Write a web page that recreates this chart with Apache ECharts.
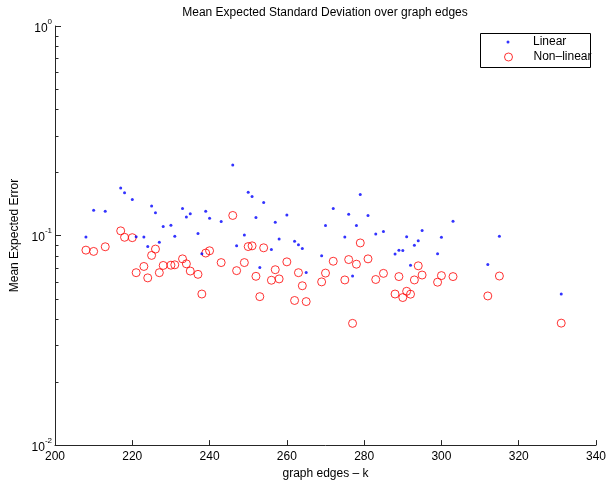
<!DOCTYPE html>
<html><head><meta charset="utf-8">
<script src="https://cdn.jsdelivr.net/npm/echarts@6/dist/echarts.min.js"></script>
<style>html,body{margin:0;padding:0;background:#fff}#c{width:613px;height:485px}</style>
</head><body><div id="c"></div>
<script>
// graph edges (k) shared by both series
const edges = [208,210,213,217,218,220,221,223,224,225,226,227,228,230,231,233,234,235,237,238,
  239,240,243,246,247,249,250,251,252,253,254,256,257,258,260,262,263,264,265,269,
  270,272,275,276,277,278,279,281,283,285,288,289,290,291,292,293,294,295,299,300,
  303,312,315,331];
const linearVals = [0.0984,0.132,0.1307,0.1687,0.1599,0.1487,0.0987,0.0984,0.0886,0.1385,
  0.1285,0.0929,0.1104,0.112,0.0991,0.1345,0.1225,0.127,0.1024,0.0819,
  0.1307,0.1208,0.1166,0.217,0.0893,0.1005,0.161,0.1536,0.1221,0.0704,
  0.1436,0.0858,0.1157,0.0963,0.1252,0.0939,0.0903,0.0868,0.0667,0.0802,
  0.1116,0.1345,0.0984,0.1265,0.0641,0.1116,0.157,0.1247,0.1016,0.1046,
  0.0816,0.0852,0.0849,0.0987,0.0722,0.09,0.0945,0.1058,0.0819,0.0981,
  0.1169,0.0728,0.0991,0.0526];
const nonlinearVals = [0.0852,0.084,0.0884,0.1053,0.0981,0.0977,0.0665,0.0712,0.0628,0.0804,
  0.0862,0.0665,0.072,0.0722,0.0725,0.0774,0.0733,0.0677,0.0653,0.0526,
  0.0825,0.0846,0.0743,0.1247,0.068,0.0743,0.0886,0.0893,0.0639,0.0511,
  0.0874,0.0612,0.0687,0.0621,0.0749,0.049,0.0665,0.0576,0.0484,0.0601,
  0.0662,0.0754,0.0614,0.0768,0.0381,0.073,0.0922,0.0774,0.0617,0.066,
  0.0526,0.0637,0.0506,0.0542,0.0525,0.0614,0.0717,0.0648,0.0599,0.0644,
  0.0637,0.0515,0.0641,0.0382];
const xTicks = [200,220,240,260,280,300,320,340];
const yMajorTicks = [0.01, 0.1, 1];
const yMinorMantissas = [2,3,4,5,6,7,8,9];

const FONT = '"Liberation Sans", Arial, Helvetica, sans-serif';
const AX = '#262626';
const chart = echarts.init(document.getElementById('c'), null, {renderer: 'canvas'});

const option = {
  backgroundColor: '#fff',
  animation: false,
  title: {
    text: 'Mean Expected Standard Deviation over graph edges',
    left: 320, top: 2, textAlign: 'center',
    textStyle: {fontFamily: FONT, fontSize: 12, fontWeight: 'normal', color: '#000'}
  },
  grid: {left: 55, right: 17, top: 26, bottom: 32, containLabel: false},
  xAxis: {
    type: 'value', min: xTicks[0], max: xTicks[xTicks.length - 1], interval: 20,
    name: 'graph edges \u2013 k', nameLocation: 'middle', nameGap: 21,
    nameTextStyle: {fontFamily: FONT, fontSize: 12, color: '#000'},
    axisLine: {show: true, lineStyle: {color: AX, width: 1}},
    axisTick: {show: true, inside: true, length: 5, lineStyle: {color: AX}},
    axisLabel: {fontFamily: FONT, fontSize: 12, color: '#000', margin: 6},
    splitLine: {show: false}
  },
  yAxis: {
    type: 'log', logBase: 10, min: yMajorTicks[0], max: yMajorTicks[yMajorTicks.length - 1],
    name: 'Mean Expected Error', nameLocation: 'middle', nameGap: 34,
    nameTextStyle: {fontFamily: FONT, fontSize: 12, color: '#000'},
    axisLine: {show: true, lineStyle: {color: AX, width: 1}},
    axisTick: {show: true, inside: true, length: 6, lineStyle: {color: AX}},
    axisLabel: {
      margin: 3,
      formatter: function (v) {
        const e = Math.round(Math.log10(v));
        return '{b|10}{s|' + e + '}';
      },
      rich: {
        b: {fontFamily: FONT, fontSize: 12, color: '#000', verticalAlign: 'bottom', lineHeight: 17},
        s: {fontFamily: FONT, fontSize: 8, color: '#000', verticalAlign: 'top', lineHeight: 8}
      }
    },
    splitLine: {show: false}
  },
  legend: [
    {
      data: ['Linear'], orient: 'vertical', left: 506.5, top: 36, padding: 0,
      itemWidth: 40, itemHeight: 3, selectedMode: false,
      textStyle: {fontFamily: FONT, fontSize: 12, color: '#000'}
    },
    {
      data: ['Non\u2013linear'], orient: 'vertical', left: 504, top: 51, padding: 0,
      itemWidth: 40, itemHeight: 8, selectedMode: false,
      itemStyle: {borderWidth: 1},
      textStyle: {fontFamily: FONT, fontSize: 12, color: '#000'}
    }
  ],
  graphic: [],
  series: [
    {
      name: 'Linear', type: 'scatter', symbol: 'circle', symbolSize: 3,
      itemStyle: {color: '#0000ff'},
      data: edges.map((k, i) => [k, linearVals[i]]),
      z: 3
    },
    {
      name: 'Non\u2013linear', type: 'scatter', symbol: 'circle', symbolSize: 8,
      itemStyle: {color: 'rgba(255,255,255,0)', borderColor: '#ff0000', borderWidth: 1},
      data: edges.map((k, i) => [k, nonlinearVals[i]]),
      z: 2
    }
  ]
};
chart.setOption(option);

// log-scale minor ticks on the y axis (positions from the axis scale)
const gfx = [];
for (let d = 0; d < yMajorTicks.length - 1; d++) {
  for (const m of yMinorMantissas) {
    const v = m * yMajorTicks[d];
    const py = Math.round(chart.convertToPixel({yAxisIndex: 0}, v)) + 0.5;
    const px = chart.convertToPixel({xAxisIndex: 0}, xTicks[0]);
    gfx.push({type: 'line', silent: true, z: 5,
      shape: {x1: px, y1: py, x2: px + 3.5, y2: py},
      style: {stroke: AX, lineWidth: 1}});
  }
}
// legend frame
gfx.push({type: 'rect', silent: true, z: 1,
  shape: {x: 480.5, y: 33.5, width: 110, height: 34},
  style: {fill: '#fff', stroke: '#000', lineWidth: 1}});
chart.setOption({graphic: gfx});
</script>
</body></html>
